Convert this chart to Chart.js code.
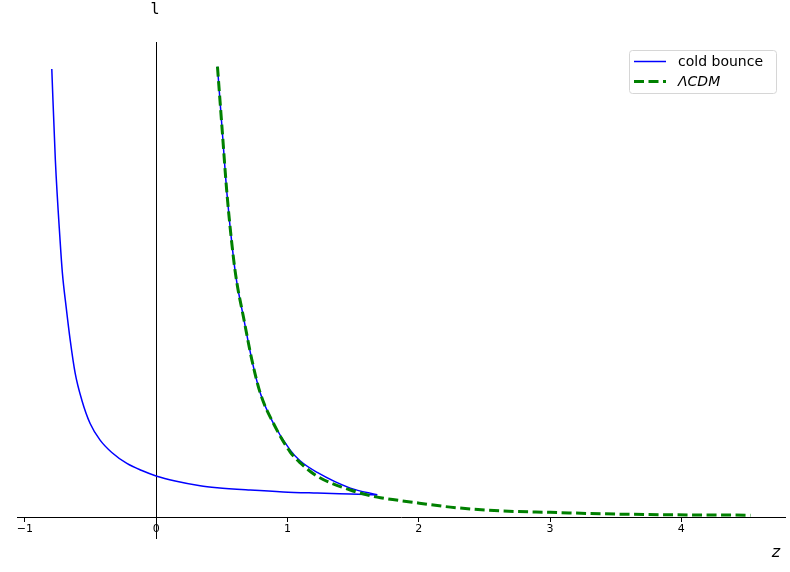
<!DOCTYPE html>
<html>
<head>
<meta charset="utf-8">
<script src="https://cdn.jsdelivr.net/npm/chart.js@4"></script>
<style>
  body { margin: 0; background: #fff; }
  #wrap { width: 790px; height: 572px; }
</style>
</head>
<body>
<div id="wrap"><canvas id="grafico"></canvas></div>
<script>
// cold bounce, lower branch (from the top left down to the turning point)
const bounceZ1 = [-0.795, -0.768, -0.732, -0.714, -0.686, -0.655, -0.617, -0.566, -0.503, -0.427, -0.338, -0.223, -0.109, 0.005, 0.145, 0.335, 0.465, 0.716, 0.968, 1.227, 1.479, 1.684];
const bounceL1 = [9.43, 7.52, 5.83, 5.13, 4.43, 3.73, 3.03, 2.46, 1.97, 1.62, 1.36, 1.13, 0.98, 0.86, 0.76, 0.66, 0.62, 0.57, 0.53, 0.505, 0.484, 0.467];

// cold bounce, upper branch (turning point back up along LCDM)
const bounceZ2 = [0.467, 0.501, 0.539, 0.589, 0.615, 0.665, 0.729, 0.793, 0.892, 1.021, 1.098, 1.227, 1.479, 1.684];
const bounceL2 = [9.48, 8.22, 6.82, 5.45, 4.93, 4.21, 3.31, 2.61, 1.98, 1.41, 1.18, 0.94, 0.61, 0.47];

const lcdmZ = [0.467, 0.501, 0.539, 0.589, 0.615, 0.665, 0.729, 0.793, 0.892, 1.021, 1.098, 1.227, 1.479, 1.684, 1.936, 2.241, 2.622, 3.003, 3.384, 3.895, 4.527];
const lcdmL = [9.48, 8.22, 6.82, 5.45, 4.93, 4.21, 3.31, 2.61, 1.98, 1.37, 1.14, 0.86, 0.57, 0.42, 0.32, 0.21, 0.13, 0.10, 0.07, 0.05, 0.04];

const xTicks = [-1, 0, 1, 2, 3, 4];

const pontos = (xs, ys) => xs.map((x, i) => ({ x: x, y: ys[i] }));

const decor = {
    id: 'decor',
    afterDraw(chart) {
        const ctx = chart.ctx;
        ctx.save();
        // axis names
        ctx.fillStyle = '#000';
        ctx.textAlign = 'center';
        ctx.textBaseline = 'middle';
        ctx.font = '15px "DejaVu Sans Mono"';
        ctx.fillText('l', 155, 10);
        ctx.font = 'italic 16px "DejaVu Sans"';
        ctx.fillText('z', 776, 553);

        // legend box
        ctx.beginPath();
        ctx.roundRect(629.5, 50.5, 147, 43, 3);
        ctx.fillStyle = 'rgba(255,255,255,0.8)';
        ctx.fill();
        ctx.strokeStyle = '#d6d6d6';
        ctx.lineWidth = 1;
        ctx.stroke();

        const ds = chart.data.datasets;
        const entradas = [0, 2];
        const linhas = [61.5, 81.5];
        entradas.forEach((k, i) => {
            const d = ds[k];
            ctx.beginPath();
            ctx.setLineDash(d.borderDash || []);
            ctx.strokeStyle = d.borderColor;
            ctx.lineWidth = d.borderWidth;
            ctx.moveTo(634, linhas[i]);
            ctx.lineTo(666, linhas[i]);
            ctx.stroke();
            ctx.setLineDash([]);
            ctx.fillStyle = '#000';
            ctx.textAlign = 'left';
            ctx.font = (i === 1 ? 'italic ' : '') + '14px "DejaVu Sans"';
            ctx.fillText(d.label, 678, linhas[i] + 1);
        });
        ctx.restore();
    }
};

new Chart(document.getElementById('grafico'), {
    type: 'scatter',
    data: {
        datasets: [
            {
                label: 'cold bounce',
                data: pontos(bounceZ1, bounceL1),
                showLine: true,
                borderColor: '#0000ff',
                borderWidth: 1.5,
                pointRadius: 0,
                cubicInterpolationMode: 'monotone',
                order: 2
            },
            {
                label: 'cold bounce',
                data: pontos(bounceZ2, bounceL2),
                showLine: true,
                borderColor: '#0000ff',
                borderWidth: 1.5,
                pointRadius: 0,
                cubicInterpolationMode: 'monotone',
                order: 2
            },
            {
                label: 'ΛCDM',
                data: pontos(lcdmZ, lcdmL),
                showLine: true,
                borderColor: '#008000',
                borderWidth: 3,
                borderDash: [10, 4.5],
                pointRadius: 0,
                cubicInterpolationMode: 'monotone',
                order: 1
            }
        ]
    },
    options: {
        responsive: true,
        maintainAspectRatio: false,
        animation: false,
        layout: {
            padding: { left: 17, right: 5, top: 42, bottom: 34 }
        },
        scales: {
            x: {
                type: 'linear',
                position: { y: 0 },
                min: -1.06,
                max: 4.79,
                afterFit: s => { s.height = 0; },
                afterBuildTicks: s => { s.ticks = xTicks.map(v => ({ value: v })); },
                grid: { drawOnChartArea: false, drawTicks: true, tickLength: 4, color: '#000' },
                border: { display: true, color: '#000', width: 1 },
                ticks: {
                    color: '#000',
                    padding: 1,
                    font: { family: 'DejaVu Sans', size: 11 },
                    callback: v => String(v).replace('-', '\u2212')
                }
            },
            y: {
                type: 'linear',
                position: { x: 0 },
                min: -0.44,
                max: 10,
                afterFit: s => { s.width = 0; },
                grid: { display: false },
                border: { display: true, color: '#000', width: 1 },
                ticks: { display: false }
            }
        },
        plugins: {
            legend: { display: false },
            tooltip: { enabled: false }
        }
    },
    plugins: [decor]
});
</script>
</body>
</html>
